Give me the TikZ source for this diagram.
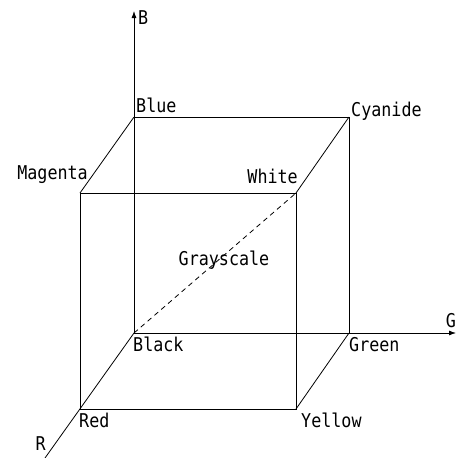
\documentclass[tikz,border=0pt]{standalone}
\usepackage{fontspec}
\usepackage{tikz}
\usetikzlibrary{arrows.meta}
\newfontfamily\cubefont[FakeStretch=0.88]{DejaVu Sans Mono}
\tikzset{
  edge/.style={line width=0.8pt},
  axis/.style={line width=0.8pt, -{Latex[length=7pt,width=5pt]}},
  lbl/.style={inner sep=0pt, font=\cubefont\fontsize{19}{22}\selectfont}
}

\begin{document}
\begin{tikzpicture}[x=1pt, y=-1pt]
  \useasboundingbox (0,0) rectangle (456,458);
  % corners of the cube
  \coordinate (black)   at (134,333);
  \coordinate (blue)    at (134,117);
  \coordinate (cyan)    at (349,117);
  \coordinate (green)   at (349,333);
  \coordinate (magenta) at (80,193);
  \coordinate (white)   at (296,193);
  \coordinate (red)     at (80,409);
  \coordinate (yellow)  at (296,409);
  % axis ends
  \coordinate (btip) at (134,11);
  \coordinate (gtip) at (456,333);
  \coordinate (rend) at (45,458);
  % axes
  \draw[axis] (black) -- (btip);
  \draw[axis] (black) -- (gtip);
  \draw[edge] (black) -- (rend);
  % back face
  \draw[edge] (blue) -- (cyan) -- (green);
  % front face
  \draw[edge] (magenta) -- (white) -- (yellow) -- (red) -- cycle;
  % depth edges
  \draw[edge] (magenta) -- (blue);
  \draw[edge] (white) -- (cyan);
  \draw[edge] (yellow) -- (green);
  % grayscale diagonal
  \draw[edge, dashed, dash pattern=on 5pt off 4pt] (black) -- (white);
  % labels
  \node[lbl, anchor=west]        (lb) at (138,18)  {B};
  \node[lbl, anchor=south west]  (lblue) at (136,113) {Blue};
  \node[lbl, anchor=west]        (lcyan) at (351,111) {Cyanide};
  \node[lbl, anchor=south east]  (lmag) at (88,184)  {Magenta};
  \node[lbl, anchor=south east]  (lwhite) at (298,184) {White};
  \node[lbl]                     (lgray) at (224,260) {Grayscale};
  \node[lbl, anchor=north west]  (lblack) at (133,337) {Black};
  \node[lbl, anchor=north west]  (lgreen) at (349,337) {Green};
  \node[lbl, anchor=south]       (lg) at (451,328) {G};
  \node[lbl, anchor=north west]  (lred) at (79,413)  {Red};
  \node[lbl, anchor=north west]  (lyellow) at (301,413) {Yellow};
  \node[lbl, anchor=south east]  (lr) at (46,451)  {R};
\end{tikzpicture}
\end{document}
